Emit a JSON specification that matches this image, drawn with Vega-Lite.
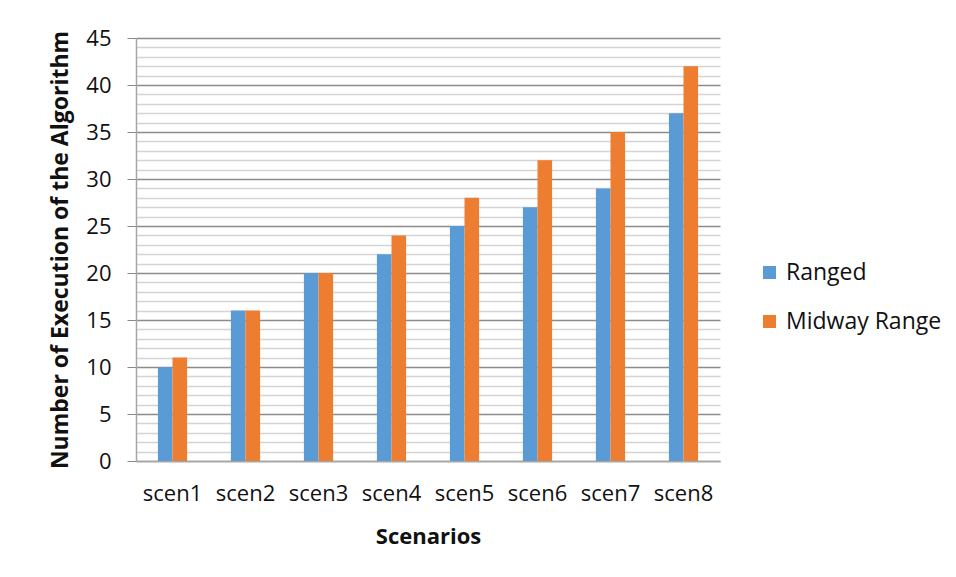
{
  "$schema": "https://vega.github.io/schema/vega-lite/v6.json",
  "autosize": {"type": "none"},
  "width": 584,
  "height": 423,
  "padding": {"left": 136, "top": 38, "right": 236, "bottom": 116},
  "background": "white",
  "config": {
    "font": "Open Sans",
    "view": {"stroke": null}
  },
  "data": {
    "values": [
      {"scenario": "scen1", "series": "Ranged", "count": 10},
      {"scenario": "scen1", "series": "Midway Range", "count": 11},
      {"scenario": "scen2", "series": "Ranged", "count": 16},
      {"scenario": "scen2", "series": "Midway Range", "count": 16},
      {"scenario": "scen3", "series": "Ranged", "count": 20},
      {"scenario": "scen3", "series": "Midway Range", "count": 20},
      {"scenario": "scen4", "series": "Ranged", "count": 22},
      {"scenario": "scen4", "series": "Midway Range", "count": 24},
      {"scenario": "scen5", "series": "Ranged", "count": 25},
      {"scenario": "scen5", "series": "Midway Range", "count": 28},
      {"scenario": "scen6", "series": "Ranged", "count": 27},
      {"scenario": "scen6", "series": "Midway Range", "count": 32},
      {"scenario": "scen7", "series": "Ranged", "count": 29},
      {"scenario": "scen7", "series": "Midway Range", "count": 35},
      {"scenario": "scen8", "series": "Ranged", "count": 37},
      {"scenario": "scen8", "series": "Midway Range", "count": 42}
    ]
  },
  "mark": {"type": "bar"},
  "encoding": {
    "x": {
      "field": "scenario",
      "type": "nominal",
      "sort": null,
      "scale": {"paddingInner": 0.6, "paddingOuter": 0.3},
      "axis": {
        "title": "Scenarios",
        "labelAngle": 0,
        "labelFontSize": 22,
        "labelColor": "#111",
        "labelPadding": 22,
        "ticks": false,
        "domainColor": "#a6a6a6",
        "domainWidth": 1.5,
        "titleFontSize": 22,
        "titleFontWeight": "bold",
        "titleColor": "#111",
        "titlePadding": 22
      }
    },
    "xOffset": {
      "field": "series",
      "type": "nominal",
      "sort": ["Ranged", "Midway Range"],
      "scale": {"paddingInner": 0, "paddingOuter": 0}
    },
    "y": {
      "field": "count",
      "type": "quantitative",
      "scale": {"domain": [0, 45], "nice": false},
      "axis": {
        "title": "Number of Execution of the Algorithm",
        "values": [0,1,2,3,4,5,6,7,8,9,10,11,12,13,14,15,16,17,18,19,20,21,22,23,24,25,26,27,28,29,30,31,32,33,34,35,36,37,38,39,40,41,42,43,44,45],
        "labelExpr": "datum.value % 5 === 0 ? datum.label : ''",
        "labelOverlap": false,
        "labelFontSize": 22,
        "labelColor": "#111",
        "labelPadding": 16,
        "tickSize": 9,
        "tickColor": "#888888",
        "tickOpacity": {"condition": {"test": "datum.value % 5 === 0", "value": 1}, "value": 0},
        "grid": true,
        "gridColor": {"condition": {"test": "datum.value % 5 === 0", "value": "#8c8c8c"}, "value": "#d4d4d4"},
        "gridWidth": 1.5,
        "domainColor": "#a6a6a6",
        "domainWidth": 1.5,
        "titleFontSize": 23,
        "titleFontWeight": "bold",
        "titleColor": "#111",
        "titlePadding": 13
      }
    },
    "color": {
      "field": "series",
      "type": "nominal",
      "sort": ["Ranged", "Midway Range"],
      "scale": {"domain": ["Ranged", "Midway Range"], "range": ["#5b9bd5", "#ed7d31"]},
      "legend": {
        "title": null,
        "orient": "none",
        "legendX": 622,
        "legendY": 223,
        "symbolType": "square",
        "symbolSize": 169,
        "symbolStrokeWidth": 0,
        "labelFontSize": 23,
        "labelColor": "#111",
        "labelOffset": 5,
        "rowPadding": 25
      }
    }
  }
}
